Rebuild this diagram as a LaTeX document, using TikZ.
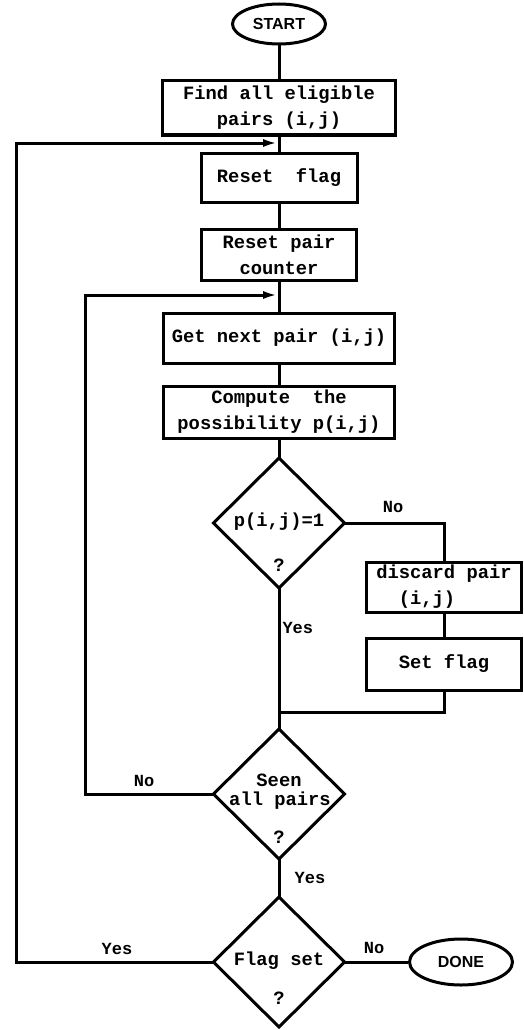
\documentclass[tikz,border=0pt]{standalone}
\usepackage{fontspec}
\setmonofont{Liberation Mono}
\setsansfont{Liberation Sans}
\usetikzlibrary{shapes.geometric,arrows.meta}
\begin{document}
\begin{tikzpicture}[x=1pt,y=-1pt,
  line width=3pt,
  proc/.style={draw, rectangle, inner sep=0pt, align=center, font=\ttfamily\bfseries\fontsize{18.8}{26}\selectfont},
  term/.style={draw, ellipse, inner sep=0pt, font=\sffamily\bfseries\fontsize{16}{18}\selectfont},
  dec/.style={draw, diamond, inner sep=0pt, outer sep=0pt, minimum width=131pt, minimum height=130pt},
  txt/.style={inner sep=0pt, font=\ttfamily\bfseries\fontsize{18.8}{22}\selectfont},
  lab/.style={inner sep=0pt, font=\ttfamily\bfseries\fontsize{17}{20}\selectfont},
  arr/.style={-{Latex[length=15pt,width=8pt]}}
]
\useasboundingbox (0,0) rectangle (524,1030);

\node[term, minimum width=93pt, minimum height=40pt] (start) at (279,24) {START};
\node[proc, minimum width=233pt, minimum height=54pt] (find) at (279,108) {Find all eligible\\pairs (i,j)};
\node[proc, minimum width=156pt, minimum height=49pt] (rflag) at (279,177.5) {Reset\ \ flag};
\node[proc, minimum width=155pt, minimum height=51pt] (rpair) at (279,254.5) {Reset pair\\counter};
\node[proc, minimum width=231pt, minimum height=50pt] (getp) at (279,338) {Get next pair (i,j)};
\node[proc, minimum width=231pt, minimum height=52pt] (comp) at (279,412) {Compute\ \ the\\possibility p(i,j)};

\node[dec] (d1) at (279,523) {};
\node[txt] (d1t) at (279,522) {p(i,j)=1};
\node[txt] (d1q) at (279,565) {?};

\node[proc, minimum width=155pt, minimum height=50pt, align=left] (disc) at (444,587) {discard pair\\\ \ (i,j)};
\node[proc, minimum width=155pt, minimum height=52pt] (sflag) at (444,664) {Set flag};

\coordinate (j1) at (279,712);

\node[dec] (d2) at (279,794) {};
\node[txt] (d2a) at (279,780) {Seen};
\node[txt] (d2b) at (280,801) {all pairs};
\node[txt] (d2q) at (279,837) {?};

\node[dec] (d3) at (279,962) {};
\node[txt] (d3a) at (279,961) {Flag set};
\node[txt] (d3q) at (279,998) {?};

\node[term, minimum width=103pt, minimum height=46pt] (done) at (461,962) {DONE};

\coordinate (a1) at (278,143);
\coordinate (a2) at (278,295);
\coordinate (l1) at (16,143);
\coordinate (l2) at (85,295);

\draw (start) -- (find);
\draw (find) -- (rflag);
\draw (rflag) -- (rpair);
\draw (rpair) -- (getp);
\draw (getp) -- (comp);
\draw (comp) -- (d1);
\draw (d1.south) -- (j1) -- (d2.north);
\draw (d1.east) -| (disc.north);
\draw (disc) -- (sflag);
\draw (sflag.south) |- (j1);
\draw (d2) -- (d3);
\draw (d3) -- (done);
\draw[arr] (d3.west) -| (l1) -- (a1);
\draw[arr] (d2.west) -| (l2) -- (a2);

\node[lab] at (393,507) {No};
\node[lab, anchor=west] at (281,628) {Yes};
\node[lab] at (144,781) {No};
\node[lab] at (310,878) {Yes};
\node[lab] at (117,949) {Yes};
\node[lab] at (374,948) {No};
\end{tikzpicture}
\end{document}
